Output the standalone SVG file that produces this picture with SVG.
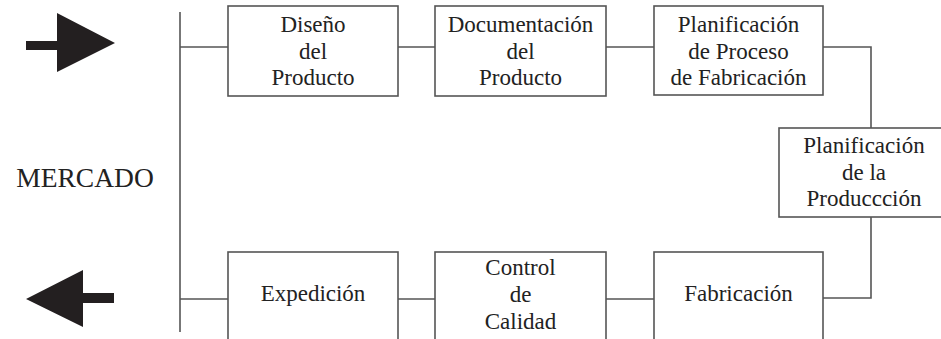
<svg xmlns="http://www.w3.org/2000/svg" width="941" height="339" viewBox="0 0 941 339">
<style>
.box{fill:#fff;stroke:#555;stroke-width:1.6}
.con{fill:none;stroke:#555;stroke-width:1.6}
.t{font-family:'Liberation Serif','Tinos','Times New Roman','DejaVu Serif','Noto Serif',serif;font-size:23px;fill:#222;text-anchor:middle}
.big{font-size:27.5px}
.arrow{fill:#231f20}
</style>
<rect width="941" height="339" fill="#fff"/>
<g id="connectors">
<path class="con" d="M180 12V332"/>
<path class="con" d="M180 47H228M398 47H435M606 47H654M823 47H871V128"/>
<path class="con" d="M871 217V298H823M654 299H606M435 299H398M228 299H180"/>
</g>
<g id="arrow-in"><path class="arrow" d="M26 41H57V13L115 43L57 72V50H26Z"/></g>
<g id="arrow-out"><path class="arrow" d="M26 299L83 270V293H114V303H83V327Z"/></g>
<g id="mercado"><text class="t big" x="85" y="187">MERCADO</text></g>
<g id="diseno"><rect class="box" x="228" y="6" width="170" height="90"/>
<text class="t" x="313" y="32">Diseño</text><text class="t" x="313" y="59">del</text><text class="t" x="313" y="85">Producto</text></g>
<g id="documentacion"><rect class="box" x="435" y="6" width="171" height="90"/>
<text class="t" x="520.5" y="32">Documentación</text><text class="t" x="520.5" y="59">del</text><text class="t" x="520.5" y="85">Producto</text></g>
<g id="planif-proceso"><rect class="box" x="654" y="6" width="169" height="89"/>
<text class="t" x="738.5" y="32">Planificación</text><text class="t" x="738.5" y="59">de Proceso</text><text class="t" x="738.5" y="85">de Fabricación</text></g>
<g id="planif-produccion"><rect class="box" x="779" y="128" width="170" height="89"/>
<text class="t" x="864" y="153">Planificación</text><text class="t" x="864" y="180">de la</text><text class="t" x="864" y="206">Produccción</text></g>
<g id="fabricacion"><rect class="box" x="654" y="252" width="169" height="95"/>
<text class="t" x="738.5" y="301">Fabricación</text></g>
<g id="control"><rect class="box" x="435" y="252" width="171" height="95"/>
<text class="t" x="520.5" y="275">Control</text><text class="t" x="520.5" y="302">de</text><text class="t" x="520.5" y="329">Calidad</text></g>
<g id="expedicion"><rect class="box" x="228" y="252" width="170" height="95"/>
<text class="t" x="313" y="301">Expedición</text></g>
</svg>
